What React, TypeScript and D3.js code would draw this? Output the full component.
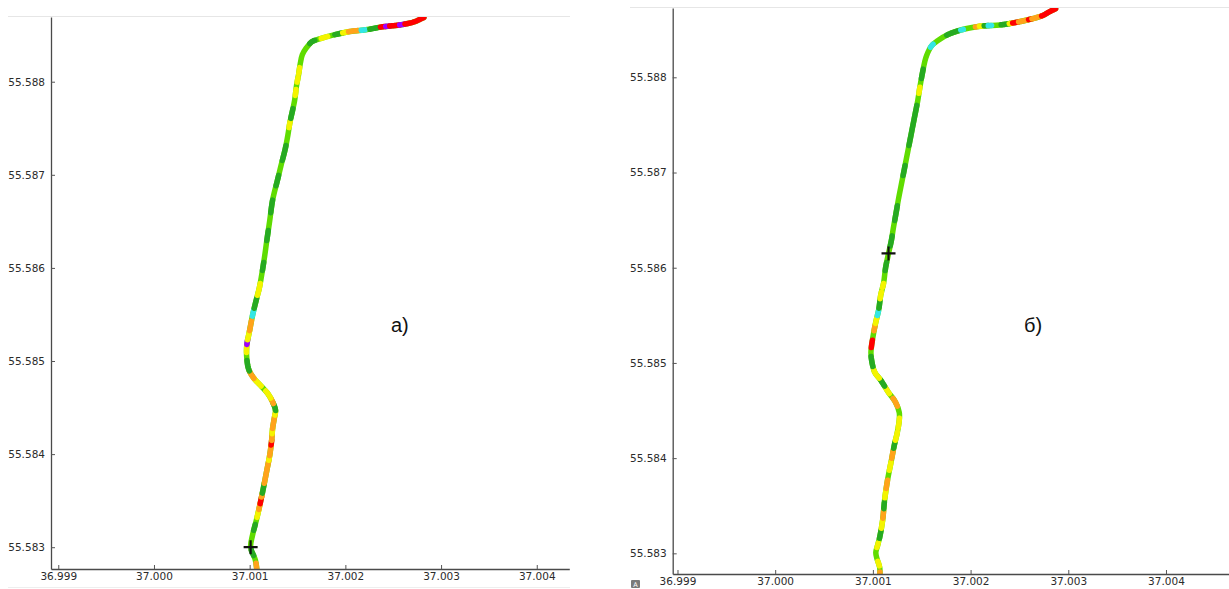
import React, { useEffect, useRef } from 'react';
import * as d3 from 'd3';

// Axis ticks (degrees)
const lonTicks = [36.999, 37.0, 37.001, 37.002, 37.003, 37.004];
const latTicks = [55.583, 55.584, 55.585, 55.586, 55.587, 55.588];

// Track, run a) — longitude / latitude of the vertices, south to north
const trackALon = [
  37.00108, 37.00106, 37.00101, 37.00103, 37.00107, 37.00111, 37.00115, 37.00118, 37.00121, 37.00123,
  37.00124, 37.00126, 37.00127, 37.00124, 37.00119, 37.00113, 37.00104, 37.00099, 37.00097, 37.00097,
  37.0010, 37.00103, 37.00107, 37.0011, 37.00112, 37.00115, 37.00118, 37.00121, 37.00124, 37.00129,
  37.00133, 37.00137, 37.0014, 37.00142, 37.00145, 37.00147, 37.00149, 37.00151, 37.00153, 37.00155,
  37.00159, 37.00165, 37.00173, 37.00187, 37.00205, 37.00223, 37.00239, 37.00257, 37.00271, 37.00278,
  37.00282,
];
const trackALat = [
  55.5827, 55.58286, 55.583, 55.58313, 55.58329, 55.58347, 55.58367, 55.58383, 55.58399, 55.58415,
  55.58428, 55.5844, 55.58447, 55.58456, 55.58465, 55.58472, 55.58482, 55.58491, 55.58503, 55.58517,
  55.58533, 55.58549, 55.58566, 55.58578, 55.58589, 55.58608, 55.5863, 55.58651, 55.58673, 55.58694,
  55.58711, 55.58727, 55.58743, 55.58756, 55.5877, 55.5878, 55.58796, 55.58807, 55.5882, 55.58829,
  55.58836, 55.58843, 55.58846, 55.5885, 55.58854, 55.58856, 55.58859, 55.58861, 55.58864, 55.58867,
  55.58869,
];

// Track, run б)
const trackBLon = [
  37.00107, 37.00107, 37.00104, 37.00103, 37.00105, 37.00107, 37.0011, 37.00112, 37.00115, 37.00119,
  37.00122, 37.00125, 37.00127, 37.00127, 37.00123, 37.00116, 37.00108, 37.00102, 37.00099, 37.00098,
  37.0010, 37.00103, 37.00106, 37.00108, 37.00111, 37.00113, 37.00116, 37.00119, 37.00121, 37.00124,
  37.00126, 37.0013, 37.00134, 37.00138, 37.00142, 37.00146, 37.00148, 37.00151, 37.00153, 37.00155,
  37.0016, 37.00167, 37.00177, 37.00195, 37.00213, 37.0023, 37.00243, 37.00261, 37.00274, 37.00281,
  37.00287,
];
const trackBLat = [
  55.58274, 55.58285, 55.58295, 55.58301, 55.58309, 55.58317, 55.58335, 55.58356, 55.58377, 55.58398,
  55.58414, 55.58427, 55.5844, 55.58448, 55.58459, 55.58469, 55.58482, 55.5849, 55.58501, 55.58511,
  55.58527, 55.58543, 55.58556, 55.58571, 55.58584, 55.586, 55.58615, 55.58629, 55.58642, 55.58659,
  55.58671, 55.58692, 55.58713, 55.58734, 55.58755, 55.58776, 55.58789, 55.58806, 55.58816, 55.58823,
  55.58833, 55.58839, 55.58845, 55.58851, 55.58854, 55.58855, 55.58857, 55.58861, 55.58865, 55.58869,
  55.58872,
];

// Speed classes along each track: [from, to] as a share of the track length, class code.
// Anything not listed is class "g".
const trackARuns: [number, number, string][] = [
  [0.0, 0.018, 'o'], [0.03, 0.039, 'G'], [0.069, 0.078, 'G'], [0.089, 0.101, 'y'], [0.101, 0.11, 'o'],
  [0.11, 0.12, 'r'], [0.12, 0.126, 'o'], [0.126, 0.141, 'G'], [0.141, 0.176, 'o'], [0.176, 0.183, 'y'],
  [0.183, 0.199, 'o'], [0.199, 0.206, 'r'], [0.206, 0.216, 'o'], [0.216, 0.224, 'y'], [0.224, 0.244, 'o'],
  [0.244, 0.251, 'y'], [0.251, 0.262, 'G'], [0.262, 0.271, 'o'], [0.271, 0.284, 'y'], [0.294, 0.31, 'y'],
  [0.31, 0.323, 'o'], [0.323, 0.339, 'G'], [0.351, 0.361, 'y'], [0.363, 0.37, 'p'], [0.37, 0.384, 'y'],
  [0.384, 0.399, 'o'], [0.406, 0.416, 'c'], [0.418, 0.433, 'G'], [0.438, 0.456, 'y'], [0.476, 0.488, 'G'],
  [0.521, 0.536, 'G'], [0.563, 0.582, 'G'], [0.604, 0.62, 'G'], [0.643, 0.666, 'G'], [0.693, 0.703, 'y'],
  [0.707, 0.722, 'G'], [0.742, 0.751, 'y'], [0.762, 0.769, 'y'], [0.775, 0.784, 'y'], [0.824, 0.833, 'G'],
  [0.843, 0.853, 'y'], [0.864, 0.875, 'G'], [0.876, 0.883, 'y'], [0.885, 0.899, 'o'], [0.904, 0.91, 'c'],
  [0.917, 0.928, 'G'], [0.933, 0.941, 'r'], [0.941, 0.947, 'p'], [0.947, 0.962, 'r'], [0.962, 0.97, 'p'],
  [0.97, 1.0, 'r'],
];
const trackBRuns: [number, number, string][] = [
  [0.0, 0.009, 'o'], [0.018, 0.025, 'y'], [0.046, 0.053, 'y'], [0.06, 0.072, 'G'], [0.075, 0.087, 'y'],
  [0.09, 0.101, 'o'], [0.104, 0.113, 'G'], [0.12, 0.131, 'y'], [0.134, 0.146, 'o'], [0.161, 0.173, 'y'],
  [0.179, 0.191, 'o'], [0.194, 0.203, 'G'], [0.206, 0.218, 'y'], [0.224, 0.239, 'y'], [0.257, 0.27, 'o'],
  [0.279, 0.29, 'y'], [0.292, 0.303, 'G'], [0.306, 0.32, 'y'], [0.326, 0.341, 'G'], [0.354, 0.365, 'r'],
  [0.379, 0.388, 'o'], [0.39, 0.398, 'y'], [0.402, 0.409, 'c'], [0.413, 0.424, 'G'], [0.427, 0.437, 'y'],
  [0.444, 0.45, 'y'], [0.469, 0.481, 'G'], [0.506, 0.521, 'G'], [0.544, 0.566, 'G'], [0.611, 0.626, 'G'],
  [0.656, 0.716, 'G'], [0.734, 0.743, 'y'], [0.756, 0.77, 'G'], [0.804, 0.81, 'c'], [0.834, 0.852, 'G'],
  [0.856, 0.86, 'c'], [0.878, 0.884, 'o'], [0.884, 0.888, 'y'], [0.891, 0.897, 'G'], [0.897, 0.902, 'c'],
  [0.916, 0.928, 'G'], [0.928, 0.933, 'y'], [0.933, 0.942, 'r'], [0.942, 0.957, 'o'], [0.957, 0.962, 'r'],
  [0.962, 0.977, 'o'], [0.977, 1.0, 'r'],
];

// Current position markers [lon, lat]
const markerA: [number, number] = [37.00101, 55.583];
const markerB: [number, number] = [37.00116, 55.58615];

const classColors: Record<string, string> = {
  g: '#5fdc00',
  G: '#26aa22',
  y: '#f4f400',
  o: '#ffa31a',
  r: '#ff0000',
  p: '#a000ff',
  c: '#33e6e6',
};

interface Panel {
  id: string;
  lon: number[];
  lat: number[];
  runs: [number, number, string][];
  marker: [number, number];
  lonDomain: [number, number];
  latDomain: [number, number];
  x0: number;
  x1: number;
  y0: number;
  y1: number;
  frameY: number;
  frameX0: number;
  frameX1: number;
  label: string;
  labelX: number;
  labelY: number;
}

const panels: Panel[] = [
  {
    id: 'a',
    lon: trackALon,
    lat: trackALat,
    runs: trackARuns,
    marker: markerA,
    lonDomain: [36.998924, 37.00434],
    latDomain: [55.582766, 55.588695],
    x0: 51,
    x1: 569.3,
    y0: 17,
    y1: 569,
    frameY: 16,
    frameX0: 8,
    frameX1: 570,
    label: 'а)',
    labelX: 391,
    labelY: 332,
  },
  {
    id: 'b',
    lon: trackBLon,
    lat: trackBLat,
    runs: trackBRuns,
    marker: markerB,
    lonDomain: [36.998951, 37.004645],
    latDomain: [55.582783, 55.588728],
    x0: 672.7,
    x1: 1229,
    y0: 8,
    y1: 574,
    frameY: 7,
    frameX0: 630,
    frameX1: 1229,
    label: 'б)',
    labelX: 1024,
    labelY: 332,
  },
];

const tickFont = "'DejaVu Sans', Verdana, sans-serif";

function drawPanel(svg: d3.Selection<SVGSVGElement, unknown, null, undefined>, p: Panel) {
  const x = d3.scaleLinear().domain(p.lonDomain).range([p.x0, p.x1]);
  const y = d3.scaleLinear().domain(p.latDomain).range([p.y1, p.y0]);
  const g = svg.append('g');

  // faint frame line above the plot
  g.append('line')
    .attr('x1', p.frameX0).attr('x2', p.frameX1)
    .attr('y1', p.frameY + 0.5).attr('y2', p.frameY + 0.5)
    .attr('stroke', '#e6e6e6').attr('stroke-width', 1);

  const clipId = `clip-${p.id}`;
  svg.append('defs').append('clipPath').attr('id', clipId)
    .append('rect')
    .attr('x', p.x0).attr('y', p.y0)
    .attr('width', p.x1 - p.x0).attr('height', p.y1 - p.y0);

  const pts: [number, number][] = p.lon.map((lo, i) => [x(lo), y(p.lat[i])]);
  const curve = d3.line<[number, number]>().curve(d3.curveCatmullRom.alpha(0.5));
  const straight = d3.line<[number, number]>();

  const track = g.append('g').attr('clip-path', `url(#${clipId})`);
  const guide = track.append('path')
    .attr('d', curve(pts) ?? '')
    .attr('fill', 'none')
    .attr('stroke', classColors.g)
    .attr('stroke-width', 5.5)
    .attr('stroke-linecap', 'round')
    .attr('stroke-linejoin', 'round');
  const node = guide.node() as SVGPathElement;
  const total = node.getTotalLength();

  const sample = (a: number, b: number): [number, number][] => {
    const out: [number, number][] = [];
    for (let s = a; s < b; s += 1) {
      const q = node.getPointAtLength(s);
      out.push([q.x, q.y]);
    }
    const q = node.getPointAtLength(b);
    out.push([q.x, q.y]);
    return out;
  };

  p.runs.forEach(([f0, f1, c]) => {
    track.append('path')
      .attr('d', straight(sample(f0 * total, f1 * total)) ?? '')
      .attr('fill', 'none')
      .attr('stroke', classColors[c])
      .attr('stroke-width', 5.5)
      .attr('stroke-linecap', 'round')
      .attr('stroke-linejoin', 'round');
  });

  // position marker
  const mx = x(p.marker[0]);
  const my = y(p.marker[1]);
  const arm = 7;
  g.append('path')
    .attr('d', `M${mx - arm},${my}H${mx + arm}M${mx},${my - arm}V${my + arm}`)
    .attr('stroke', '#111')
    .attr('stroke-width', 2.2)
    .attr('fill', 'none');

  // axes
  const fmt = d3.format('.3f');
  const xAxis = g.append('g')
    .attr('transform', `translate(0,${p.y1})`)
    .call(d3.axisBottom(x).tickValues(lonTicks).tickFormat((d) => fmt(d as number))
      .tickSizeInner(-4).tickSizeOuter(0).tickPadding(4));
  const yAxis = g.append('g')
    .attr('transform', `translate(${p.x0},0)`)
    .call(d3.axisLeft(y).tickValues(latTicks).tickFormat((d) => fmt(d as number))
      .tickSizeInner(-4).tickSizeOuter(0).tickPadding(6));

  [xAxis, yAxis].forEach((ax) => {
    ax.attr('font-family', tickFont).attr('font-size', 10.5);
    ax.select('.domain').attr('stroke', '#4a4a4a').attr('stroke-width', 1.3);
    ax.selectAll('.tick line').attr('stroke', '#555');
    ax.selectAll('.tick text').attr('fill', '#2b2b2b');
  });

  g.append('text')
    .attr('x', p.labelX)
    .attr('y', p.labelY)
    .attr('font-family', "'Liberation Sans', Arial, sans-serif")
    .attr('font-size', 20)
    .attr('fill', '#111')
    .text(p.label);
}

export default function App() {
  const ref = useRef<SVGSVGElement | null>(null);

  useEffect(() => {
    if (!ref.current) return;
    const svg = d3.select(ref.current);
    svg.selectAll('*').remove();

    panels.forEach((p) => drawPanel(svg, p));

    // faint line under panel a)
    svg.append('line')
      .attr('x1', 8).attr('x2', 570)
      .attr('y1', 587.5).attr('y2', 587.5)
      .attr('stroke', '#eeeeee');

    // small tool icon in the lower-left corner of panel б)
    const icon = svg.append('g').attr('transform', 'translate(631,580)');
    icon.append('rect').attr('width', 9).attr('height', 8).attr('fill', '#7a7a7a').attr('rx', 1);
    icon.append('text')
      .attr('x', 4.5).attr('y', 6.5)
      .attr('text-anchor', 'middle')
      .attr('font-family', tickFont)
      .attr('font-size', 6.5)
      .attr('fill', '#ffffff')
      .text('A');
  }, []);

  return (
    <svg
      ref={ref}
      width={1229}
      height={589}
      style={{ position: 'absolute', left: 0, top: 0, background: '#ffffff' }}
    />
  );
}
